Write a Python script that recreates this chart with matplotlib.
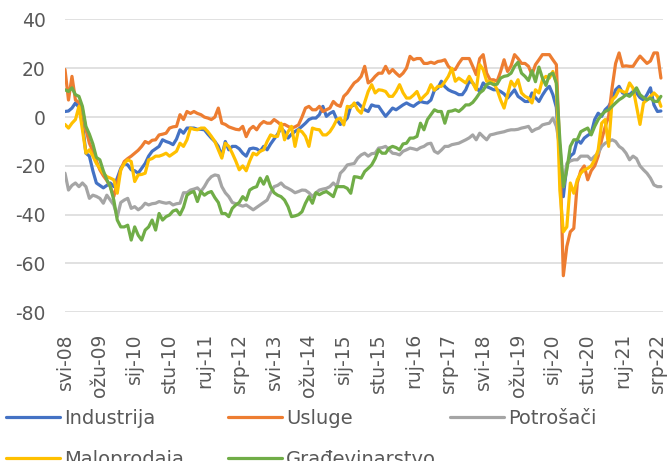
import numpy as np
import matplotlib
matplotlib.use('Agg')
from matplotlib import pyplot as plt

# Mjesečni indeksi pouzdanja, svibanj 2008 - kolovoz 2022 (očitano s grafa)
industrija = [
    2.3, 2.5, 3.7, 5.8, 4, -2.5, -14.8, -16, -22, -27,
    -28, -29, -28, -27, -28.5, -25, -21, -19, -19.6, -21.6,
    -22, -23, -21, -19, -16, -14, -13, -12, -9.3, -10,
    -10.5, -11.3, -9, -5.2, -6.6, -4.5, -4.5, -4.5, -5, -5,
    -5.2, -7, -8.6, -10, -12, -16, -10, -13.4, -12, -12,
    -13, -14.8, -16, -13, -12.7, -13, -14, -12, -13.4, -11,
    -9, -7, -4.5, -6, -8.6, -7, -5.9, -5, -3.8, -2.5,
    -1, -0.4, -0.4, 1, 4.4, 0.3, 1.5, 2.3, -1, -3,
    -2, -0.4, 4.4, 5, 5.8, 4.4, 3, 2.3, 5, 4.5,
    4.4, 2.3, 0.3, 2, 3.7, 3, 4, 5, 5.8, 5,
    4.4, 5.5, 6.4, 6, 5.8, 7, 11, 11.9, 14.7, 12.5,
    11.2, 10.5, 10, 9.2, 9.2, 11.2, 14.7, 14, 12, 10.5,
    14, 12.5, 11.9, 11.2, 11.2, 10.5, 9.5, 7.8, 9.5, 11.2,
    8.5, 7.5, 6.4, 6.4, 9.9, 8, 6.4, 9, 11.2, 12.6,
    9.2, 4, -17.5, -32.6, -20, -16, -14.8, -9.3, -10.7, -8.6,
    -7.5, -6.6, -1, 1.6, 0.3, 3, 4.4, 7, 11.2, 12.6,
    9.9, 9.5, 9.2, 10.5, 9.9, 8, 7, 9.2, 12, 5,
    2.3, 2.5,
]

usluge = [
    19.5, 7, 16.7, 7, 6, 3, -5, -10.7, -14, -18,
    -21.6, -24, -26, -28.5, -32.6, -27, -21.6, -18.2, -17, -16,
    -14.8, -13.6, -12, -10, -10.7, -9.5, -9.3, -7.3, -7, -6.6,
    -4.5, -4, -3.8, 1, -1, 2.3, 1.5, 2.3, 1.5, 1,
    0, -0.4, -1, 0, 3.7, -2.5, -3, -4, -4.5, -5,
    -5.2, -3.8, -8, -5, -3.8, -5.2, -3, -1.8, -2.5, -2.5,
    -1, -2, -3.2, -3, -3.8, -4.5, -4, -3.2, 0, 3.7,
    4.4, 3, 3, 4.4, 2.3, 3, 3.7, 6.4, 5, 4.4,
    8.5, 9.9, 12, 14, 15, 16.7, 20.8, 14, 15, 16.7,
    18, 18, 20.8, 18, 19.5, 18, 16.7, 18, 20.1, 24.9,
    23.5, 24, 24, 22, 22, 22.5, 22, 22.8, 23, 23.5,
    20.8, 19.5, 19.5, 22, 24, 24, 24, 20.8, 17.4, 24,
    25.6, 18, 15.3, 15.3, 14.7, 18.7, 23.5, 18.7, 21, 25.6,
    24, 22, 22, 20.8, 17.4, 21.5, 23.5, 25.6, 25.6, 25.6,
    23.5, 21.5, -15, -65, -53, -47, -45.6, -27, -22, -20,
    -25.7, -22, -20, -16, -9.3, -4, 0.3, 12, 22, 26.3,
    20.8, 21, 20.8, 20.8, 23, 25, 23.5, 22, 23, 26.3,
    26.3, 16,
]

potrosaci = [
    -23, -29.9, -28, -27, -28.5, -27, -28.5, -33.3, -32, -32.5,
    -33.3, -35.3, -32, -34, -36, -40.8, -35, -34, -33.3, -37.4,
    -36.7, -38, -37, -35.3, -36, -35.5, -35.3, -34.6, -35, -35.3,
    -35, -36, -35.5, -35.3, -31, -31, -29.9, -29.5, -29, -30.5,
    -28.5, -26, -24.4, -23.7, -24, -28.5, -31, -32.6, -35, -35.5,
    -36, -36.5, -36, -37, -38, -37, -36, -35, -34, -31,
    -28.5, -28, -27, -28.5, -29.2, -30, -31, -30.5, -29.9, -30,
    -31, -32.6, -31, -29.9, -29.5, -29.2, -28.5, -27, -28.5, -23,
    -21.6, -19.6, -19.3, -19, -16.8, -15.5, -14.8, -16, -15, -14.8,
    -12.7, -12.5, -12, -13.4, -14.8, -15, -15.5, -14, -13.4, -12.7,
    -13, -13.4, -12.5, -12, -11, -10.7, -14, -14.8, -13.5, -12,
    -12, -11.3, -11, -10.7, -10, -9.3, -8.5, -7.3, -9.3, -6.6,
    -8, -9.3, -7.3, -7, -6.6, -6.3, -6, -5.5, -5.2, -5.2,
    -5, -4.5, -4.2, -3.8, -5.9, -5, -4.5, -3.2, -2.8, -2.5,
    -0.4, -3.8, -12, -28.5, -19, -18, -17.5, -17.5, -16, -16,
    -16, -17.5, -16, -14.8, -12, -10.7, -10, -9.3, -10, -12,
    -13, -14.8, -17.5, -16, -17, -20, -21.6, -23, -25, -27.8,
    -28.5, -28.5,
]

maloprodaja = [
    -3, -4.5, -2.5, -1, 4.4, -5.2, -14.8, -13.4, -16, -19,
    -21, -23, -24.4, -25, -25.7, -31.2, -21.6, -19, -17.5, -18.2,
    -26.4, -23.7, -23.5, -23, -17.5, -17, -16, -16, -15.5, -14.8,
    -16, -15, -14, -10.7, -12, -9.3, -4.5, -5, -5.2, -4.5,
    -4.5, -6, -7.9, -10, -13.4, -16.8, -10.7, -12, -14.8, -18,
    -21.6, -20, -22, -18, -14.8, -15.5, -14, -13.4, -10, -7.3,
    -7.9, -7.9, -2.5, -9.3, -6, -3.8, -12, -5.2, -6, -7.9,
    -12, -4.5, -5, -5.2, -7.3, -7.3, -6, -3.8, -1, -0.4,
    -3.2, 4.4, 4, 5.8, 3, 1.6, 6, 10.5, 13.3, 9.9,
    11.2, 11, 10.5, 8.5, 8.5, 10.5, 13.3, 10, 7.8, 7.8,
    9, 10.5, 7, 8.5, 9.9, 13.3, 11, 12.6, 12.6, 14.5,
    16.7, 20, 14.7, 16, 15, 14, 16.7, 14, 11.2, 21.5,
    19.5, 14.7, 14.5, 14, 11.2, 7, 3.7, 9.2, 14.7, 12.6,
    15.3, 9.9, 8.5, 7.8, 5.8, 11.2, 9.9, 15.3, 16.7, 16,
    18.7, 14, -30, -47, -45, -27, -31.2, -25.7, -23, -21.6,
    -21, -20, -17.5, -13.4, -2.5, -1, -12, 7, 8.5, 11.2,
    10.5, 9.9, 14, 11.9, 4.4, -3, 5.8, 7, 8.5, 9.9,
    8.5, 4.4,
]

gradjevinarstvo = [
    11.2, 10.5, 12, 9.2, 8.5, 4.4, -3.8, -7, -11, -16.5,
    -17.5, -22, -25.7, -28.5, -34, -42.2, -45, -45, -44.3, -50.4,
    -45, -48.4, -50.4, -46.3, -45, -42.2, -46.3, -39.5, -42.2, -40.8,
    -40.1, -38.5, -38, -40, -37, -32, -31, -30.5, -34.6, -30.5,
    -32, -31, -30.5, -33, -35, -39.5, -39.5, -40.8, -37.4, -36,
    -35, -32.6, -34, -29.9, -29, -28.5, -25, -27.5, -24.4, -28.5,
    -31, -32, -32.6, -34, -36.7, -40.8, -40.5, -40, -38.8, -35.3,
    -32.6, -35.3, -31, -31.8, -31, -30.5, -31.5, -32.6, -28.5, -28.5,
    -28.5, -29.2, -31.2, -24.4, -24.6, -25, -22.3, -21, -19.6, -17,
    -13.4, -14.8, -14.8, -12.7, -12, -12.5, -13.4, -11, -10.7, -8.6,
    -8.6, -7.9, -2.5, -5.2, -1, 1, 3, 2.3, 2.3, -2.5,
    2.3, 2.5, 3, 2.3, 3.5, 5, 5, 6, 7.8, 9.9,
    11, 13.3, 14, 13.3, 13.5, 16, 16.7, 17, 18, 20.8,
    22.5, 18, 16.7, 15, 19, 14.5, 20.5, 16, 13, 17.4,
    18, 14, -9.3, -28.5, -21.6, -12, -9.3, -9.3, -6, -5.2,
    -4.5, -7.3, -3.8, -1, 1, 2.3, 3, 4.4, 5.8, 7.1,
    8, 9.2, 8.5, 9.9, 12, 9.2, 8, 7.1, 7.8, 6.5,
    6.4, 8.5,
]

oznake = ['svi-08', 'ožu-09', 'sij-10', 'stu-10', 'ruj-11', 'srp-12',
          'svi-13', 'ožu-14', 'sij-15', 'stu-15', 'ruj-16', 'srp-17',
          'svi-18', 'ožu-19', 'sij-20', 'stu-20', 'ruj-21', 'srp-22']

serije = [
    ('Industrija', industrija, '#4472C4'),
    ('Usluge', usluge, '#ED7D31'),
    ('Potrošači', potrosaci, '#A5A5A5'),
    ('Maloprodaja', maloprodaja, '#FFC000'),
    ('Građevinarstvo', gradjevinarstvo, '#70AD47'),
]

siva = '#595959'
plt.rcParams['font.family'] = ['DejaVu Sans']
plt.rcParams['axes.unicode_minus'] = False

fig = plt.figure(figsize=(6.68, 4.61), dpi=100)
ax = fig.add_axes([65 / 668, 1 - 312.3 / 461, 598 / 668, 292.8 / 461])

linije = {}
for ime, vrijednosti, boja in serije:
    x = np.arange(len(vrijednosti))
    linije[ime], = ax.plot(x, vrijednosti, color=boja, lw=2.3, label=ime,
                           solid_joinstyle='round', solid_capstyle='round')

ax.set_xlim(0, 171.6)
ax.set_ylim(-80, 40)
ax.set_yticks(range(-80, 41, 20))
ax.set_xticks(np.arange(len(oznake)) * 10)
ax.set_xticklabels(oznake, rotation=90, va='top', ha='center')
ax.tick_params(axis='both', length=0, labelsize=13.5, labelcolor=siva)
ax.tick_params(axis='y', pad=14)
ax.tick_params(axis='x', pad=15)
ax.grid(axis='y', color='#D9D9D9', lw=1.1)
ax.set_axisbelow(True)
for s in ax.spines.values():
    s.set_visible(False)

# legenda u tri stupca, kao u Excelu
stupci = [(6, ['Industrija', 'Maloprodaja']),
          (228, ['Usluge', 'Građevinarstvo']),
          (450, ['Potrošači'])]
for xpx, imena in stupci:
    fig.legend([linije[i] for i in imena], imena, loc='upper left',
               bbox_to_anchor=(xpx / 668, 1 - 408.5 / 461), frameon=False,
               fontsize=14, labelcolor=siva, borderpad=0, borderaxespad=0,
               handlelength=2.8, handletextpad=0.2, labelspacing=1.16)

fig.savefig('out.png', dpi=100)
